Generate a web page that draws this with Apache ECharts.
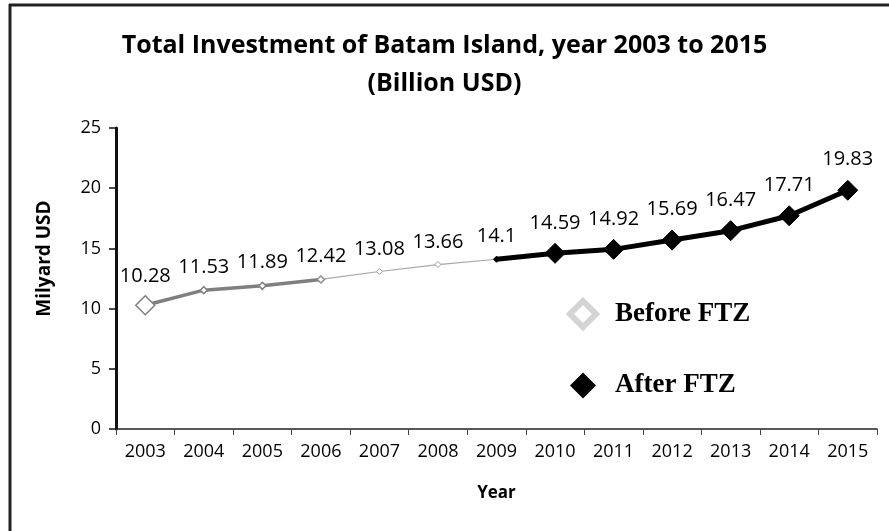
<!DOCTYPE html>
<html>
<head>
<meta charset="utf-8">
<script src="https://cdn.jsdelivr.net/npm/echarts@6/dist/echarts.min.js"></script>
<style>
  html, body { margin: 0; padding: 0; background: #fff; }
  #chart { width: 889px; height: 531px; }
</style>
</head>
<body>
<div id="chart"></div>
<script>
// * data
const years = ['2003', '2004', '2005', '2006', '2007', '2008', '2009', '2010', '2011', '2012', '2013', '2014', '2015'];
const beforeFtz = [10.28, 11.53, 11.89, 12.42, 13.08, 13.66, 14.1, null, null, null, null, null, null];
const afterFtz = [null, null, null, null, null, null, 14.1, 14.59, 14.92, 15.69, 16.47, 17.71, 19.83];
const yTicks = { min: 0, max: 25, interval: 5 };

const labelFont = 'Open Sans';

// before-FTZ line is drawn thick up to 2006 and thin afterwards
let beforeThick = beforeFtz.map((v, i) => i <= 3 ? v : null);
let beforeThin = beforeFtz.map((v, i) => i >= 3 ? v : null);

let dataLabel = {
    show: true, position: 'top', distance: 9,
    fontFamily: labelFont, fontSize: 20, color: '#000'
};

let chart = echarts.init(document.getElementById('chart'));
chart.setOption({
    backgroundColor: '#fff',
    animation: false,
    title: {
        text: 'Total Investment of Batam Island, year 2003 to 2015\n(Billion USD)',
        left: 'center',
        top: 22,
        textStyle: { fontFamily: labelFont, fontSize: 25, fontWeight: 'bold', color: '#000', lineHeight: 38 }
    },
    legend: {
        orient: 'vertical',
        left: 562,
        top: 293,
        itemGap: 42,
        itemWidth: 26,
        itemHeight: 26,
        textStyle: {
            fontFamily: 'Liberation Serif', fontSize: 27, fontWeight: 'bold', color: '#000',
            padding: [0, 0, 0, 14]
        },
        data: [
            { name: 'Before FTZ', icon: 'diamond', itemStyle: { color: '#fff', borderColor: '#d4d4d4', borderWidth: 6 } },
            { name: 'After FTZ', icon: 'diamond', itemStyle: { color: '#000', borderWidth: 0 } }
        ]
    },
    grid: { left: 116, right: 12, top: 128, bottom: 102 },
    xAxis: {
        type: 'category',
        data: years,
        boundaryGap: true,
        name: 'Year',
        nameLocation: 'middle',
        nameGap: 56,
        nameTextStyle: { fontFamily: labelFont, fontSize: 17, fontWeight: 'bold', color: '#000' },
        axisLine: { lineStyle: { color: '#222', width: 1.5 } },
        axisTick: { show: true, length: 6, lineStyle: { color: '#444' } },
        axisLabel: { fontFamily: labelFont, fontSize: 18, color: '#000', margin: 14 }
    },
    yAxis: {
        type: 'value',
        min: yTicks.min,
        max: yTicks.max,
        interval: yTicks.interval,
        name: 'Milyard USD',
        nameLocation: 'middle',
        nameGap: 62,
        nameTextStyle: {
            fontFamily: labelFont, fontSize: 19, fontWeight: 'bold', color: '#000',
            padding: [0, 0, 0, 40]
        },
        splitLine: { show: false },
        axisLine: { show: true, lineStyle: { color: '#111', width: 3 } },
        axisTick: { show: true, length: 7, lineStyle: { color: '#111', width: 1.5 } },
        axisLabel: { fontFamily: labelFont, fontSize: 18, color: '#000', margin: 15 }
    },
    series: [
        {
            name: 'Before FTZ',
            type: 'line',
            data: beforeThick,
            symbol: 'diamond',
            symbolSize: (v, p) => p.dataIndex === 0 ? 19 : 7,
            lineStyle: { color: '#7f7f7f', width: 3.5 },
            itemStyle: { color: '#fff', borderColor: '#7f7f7f', borderWidth: 1.5 },
            label: dataLabel,
            z: 2
        },
        {
            name: 'Before FTZ',
            type: 'line',
            data: beforeThin,
            symbol: 'diamond',
            symbolSize: 6,
            lineStyle: { color: '#a6a6a6', width: 1.2 },
            itemStyle: { color: '#fff', borderColor: '#999', borderWidth: 1 },
            label: Object.assign({}, dataLabel, { formatter: p => p.dataIndex === 3 ? '' : p.value }),
            z: 2
        },
        {
            name: 'After FTZ',
            type: 'line',
            data: afterFtz,
            symbol: 'diamond',
            symbolSize: (v, p) => p.dataIndex === 6 ? 6 : 20,
            lineStyle: { color: '#000', width: 5 },
            itemStyle: { color: '#000', borderColor: '#000' },
            label: Object.assign({}, dataLabel, { distance: 10, formatter: p => p.dataIndex === 6 ? '' : p.value }),
            z: 3
        }
    ],
    graphic: [
        { type: 'line', shape: { x1: 9, y1: 5, x2: 889, y2: 5 }, style: { stroke: '#222', lineWidth: 3 } },
        { type: 'line', shape: { x1: 10, y1: 4, x2: 10, y2: 531 }, style: { stroke: '#222', lineWidth: 3 } }
    ]
});
</script>
</body>
</html>
